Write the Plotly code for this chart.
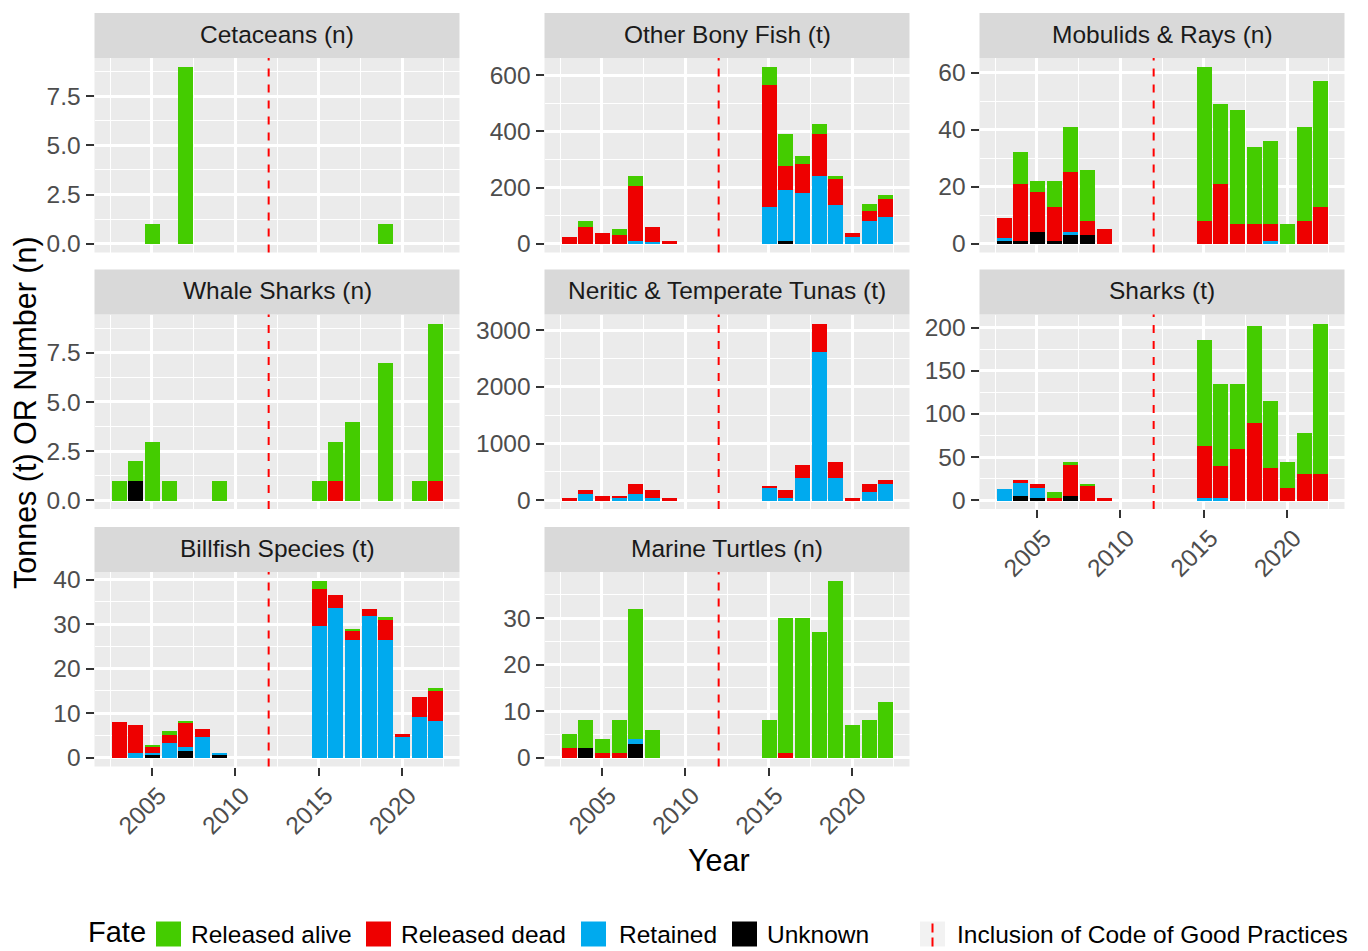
import plotly.graph_objects as go

W, H = 1368, 951
FONT = "Liberation Sans, Arial, sans-serif"

YEARS = list(range(2003, 2023))
CODE_YEAR = 2012
FATES = ["Released alive", "Released dead", "Retained", "Unknown"]
FATE_COLOURS = ["#44CC00", "#EE0000", "#00AAEE", "#000000"]

PANELS = ["Cetaceans (n)", "Other Bony Fish (t)", "Mobulids & Rays (n)",
          "Whale Sharks (n)", "Neritic & Temperate Tunas (t)", "Sharks (t)",
          "Billfish Species (t)", "Marine Turtles (n)"]

# yearly values 2003 ... 2022
#                   03 04 05 06 07 08 09 10 11 12 13 14 15 16 17 18 19 20 21 22
cetaceans_alive    = [0, 0, 1, 0, 9, 0, 0, 0, 0, 0, 0, 0, 0, 0, 0, 0, 1, 0, 0, 0]
cetaceans_dead     = [0, 0, 0, 0, 0, 0, 0, 0, 0, 0, 0, 0, 0, 0, 0, 0, 0, 0, 0, 0]
cetaceans_retained = [0, 0, 0, 0, 0, 0, 0, 0, 0, 0, 0, 0, 0, 0, 0, 0, 0, 0, 0, 0]
cetaceans_unknown  = [0, 0, 0, 0, 0, 0, 0, 0, 0, 0, 0, 0, 0, 0, 0, 0, 0, 0, 0, 0]

bonyfish_alive    = [0, 21, 0, 21, 36, 0, 0, 0, 0, 0, 0, 0, 65, 116, 28, 38, 8, 0, 23, 14]
bonyfish_dead     = [24, 59, 38, 30, 196, 53, 10, 0, 0, 0, 0, 0, 434, 86, 101, 150, 93, 14, 36, 64]
bonyfish_retained = [0, 0, 0, 0, 8, 6, 0, 0, 0, 0, 0, 0, 131, 182, 182, 240, 139, 24, 81, 95]
bonyfish_unknown  = [0, 0, 0, 0, 0, 0, 0, 0, 0, 0, 0, 0, 0, 8, 0, 0, 0, 0, 0, 0]

mobulids_alive    = [0, 11, 4, 9, 16, 18, 0, 0, 0, 0, 0, 0, 54, 28, 40, 27, 29, 7, 33, 44]
mobulids_dead     = [7, 20, 14, 12, 21, 5, 5, 0, 0, 0, 0, 0, 8, 21, 7, 7, 6, 0, 8, 13]
mobulids_retained = [1, 0, 0, 0, 1, 0, 0, 0, 0, 0, 0, 0, 0, 0, 0, 0, 1, 0, 0, 0]
mobulids_unknown  = [1, 1, 4, 1, 3, 3, 0, 0, 0, 0, 0, 0, 0, 0, 0, 0, 0, 0, 0, 0]

whale_alive    = [1, 1, 3, 1, 0, 0, 1, 0, 0, 0, 0, 0, 1, 2, 4, 0, 7, 0, 1, 8]
whale_dead     = [0, 0, 0, 0, 0, 0, 0, 0, 0, 0, 0, 0, 0, 1, 0, 0, 0, 0, 0, 1]
whale_retained = [0, 0, 0, 0, 0, 0, 0, 0, 0, 0, 0, 0, 0, 0, 0, 0, 0, 0, 0, 0]
whale_unknown  = [0, 1, 0, 0, 0, 0, 0, 0, 0, 0, 0, 0, 0, 0, 0, 0, 0, 0, 0, 0]

tunas_alive    = [0, 0, 0, 0, 0, 0, 0, 0, 0, 0, 0, 0, 0, 0, 0, 0, 0, 0, 0, 0]
tunas_dead     = [50, 71, 88, 47, 183, 147, 45, 0, 0, 0, 0, 0, 47, 147, 218, 500, 283, 50, 147, 71]
tunas_retained = [0, 118, 0, 41, 118, 41, 0, 0, 0, 0, 0, 0, 218, 41, 406, 2621, 406, 0, 153, 300]
tunas_unknown  = [0, 0, 0, 0, 0, 0, 0, 0, 0, 0, 0, 0, 0, 0, 0, 0, 0, 0, 0, 0]

sharks_alive    = [0, 0, 0, 7, 4.3, 2.3, 0, 0, 0, 0, 0, 0, 123, 94, 75, 113, 78, 30, 47, 174]
sharks_dead     = [0, 2.3, 4.7, 3, 35.7, 17.5, 3, 0, 0, 0, 0, 0, 61, 38, 60, 90, 38, 15, 31, 31]
sharks_retained = [14, 16, 12, 0, 0, 0, 0, 0, 0, 0, 0, 0, 2.7, 2.7, 0, 0, 0, 0, 0, 0]
sharks_unknown  = [0, 5.4, 3, 0, 5.4, 0, 0, 0, 0, 0, 0, 0, 0, 0, 0, 0, 0, 0, 0, 0]

billfish_alive    = [0, 0, 0.45, 1.0, 0.45, 0, 0, 0, 0, 0, 0, 0, 1.8, 0, 0.5, 0, 0.6, 0, 0, 0.5]
billfish_dead     = [7.95, 6.4, 1.4, 1.9, 5.6, 1.8, 0, 0, 0, 0, 0, 0, 8.25, 2.85, 1.9, 1.5, 4.5, 0.6, 4.5, 6.75]
billfish_retained = [0, 1.0, 0.4, 3.2, 0.8, 4.65, 0.3, 0, 0, 0, 0, 0, 29.7, 33.75, 26.5, 31.95, 26.5, 4.65, 9.2, 8.3]
billfish_unknown  = [0, 0, 0.6, 0, 1.5, 0, 0.6, 0, 0, 0, 0, 0, 0, 0, 0, 0, 0, 0, 0, 0]

turtles_alive    = [3, 6, 3, 7, 28, 6, 0, 0, 0, 0, 0, 0, 8, 29, 30, 27, 38, 7, 8, 12]
turtles_dead     = [2, 0, 1, 1, 0, 0, 0, 0, 0, 0, 0, 0, 0, 1, 0, 0, 0, 0, 0, 0]
turtles_retained = [0, 0, 0, 0, 1, 0, 0, 0, 0, 0, 0, 0, 0, 0, 0, 0, 0, 0, 0, 0]
turtles_unknown  = [0, 2, 0, 0, 3, 0, 0, 0, 0, 0, 0, 0, 0, 0, 0, 0, 0, 0, 0, 0]

# per panel: (alive, dead, retained, unknown)
PANEL_DATA = [
    (cetaceans_alive, cetaceans_dead, cetaceans_retained, cetaceans_unknown),
    (bonyfish_alive, bonyfish_dead, bonyfish_retained, bonyfish_unknown),
    (mobulids_alive, mobulids_dead, mobulids_retained, mobulids_unknown),
    (whale_alive, whale_dead, whale_retained, whale_unknown),
    (tunas_alive, tunas_dead, tunas_retained, tunas_unknown),
    (sharks_alive, sharks_dead, sharks_retained, sharks_unknown),
    (billfish_alive, billfish_dead, billfish_retained, billfish_unknown),
    (turtles_alive, turtles_dead, turtles_retained, turtles_unknown),
]

Y_TICKS = [
    [0, 2.5, 5, 7.5],
    [0, 200, 400, 600],
    [0, 20, 40, 60],
    [0, 2.5, 5, 7.5],
    [0, 1000, 2000, 3000],
    [0, 50, 100, 150, 200],
    [0, 10, 20, 30, 40],
    [0, 10, 20, 30],
]
Y_TICK_TEXT = [
    ["0.0", "2.5", "5.0", "7.5"],
    ["0", "200", "400", "600"],
    ["0", "20", "40", "60"],
    ["0.0", "2.5", "5.0", "7.5"],
    ["0", "1000", "2000", "3000"],
    ["0", "50", "100", "150", "200"],
    ["0", "10", "20", "30", "40"],
    ["0", "10", "20", "30"],
]
X_TICKS = [2005, 2010, 2015, 2020]
X_MINOR = [2002.5, 2007.5, 2012.5, 2017.5, 2022.5]

# facet geometry in pixels
COL_LEFT = [94.5, 544.5, 979.5]
ROW_TOP = [58.0, 314.5, 572.0]
PANEL_W = 365.0
PANEL_H = 194.5
STRIP_H = 45.0
BAR_W = 0.9
X_RANGE = [YEARS[0] - BAR_W / 2 - 0.05 * (YEARS[-1] - YEARS[0] + BAR_W),
           YEARS[-1] + BAR_W / 2 + 0.05 * (YEARS[-1] - YEARS[0] + BAR_W)]
BOTTOM_PANELS = {5, 6, 7}

fig = go.Figure()
shapes = []
annotations = []
axes = {}

for i, title in enumerate(PANELS):
    r, c = divmod(i, 3)
    sfx = "" if i == 0 else str(i + 1)
    xa, ya = "x" + sfx, "y" + sfx
    left, top = COL_LEFT[c], ROW_TOP[r]
    xdom = [left / W, (left + PANEL_W) / W]
    ydom = [1 - (top + PANEL_H) / H, 1 - top / H]

    alive, dead, retained, unknown = PANEL_DATA[i]
    series = {"Released alive": alive, "Released dead": dead,
              "Retained": retained, "Unknown": unknown}
    # stack from the bottom: Unknown, Retained, Released dead, Released alive
    for fate in reversed(FATES):
        vals = series[fate]
        colour = FATE_COLOURS[FATES.index(fate)]
        fig.add_trace(go.Bar(
            x=YEARS, y=[v if v else None for v in vals], width=BAR_W,
            marker=dict(color=colour, line=dict(width=0)),
            name=fate, showlegend=False, xaxis=xa, yaxis=ya,
        ))

    totals = [a + b + cc + d for a, b, cc, d in zip(alive, dead, retained, unknown)]
    ymax = max(totals)
    yrange = [-0.05 * ymax, 1.05 * ymax]
    step = Y_TICKS[i][1] - Y_TICKS[i][0]
    yminor = [t + step / 2 for t in [Y_TICKS[i][0] - step] + Y_TICKS[i]]

    bottom = i in BOTTOM_PANELS
    axes["xaxis" + sfx] = dict(
        domain=xdom, anchor=ya, range=X_RANGE, tickmode="array", tickvals=X_TICKS,
        ticktext=[str(t) for t in X_TICKS] if bottom else None,
        showticklabels=bottom, ticks="outside" if bottom else "",
        ticklen=8, tickwidth=1.5, tickcolor="#333333", tickangle=-45,
        ticklabelshift=7, ticklabelstandoff=-4,
        tickfont=dict(family=FONT, size=24.5, color="#4D4D4D"),
        showgrid=True, gridcolor="white", gridwidth=2.8, zeroline=False,
        showline=False, automargin=False, fixedrange=True,
        minor=dict(tickmode="array", tickvals=X_MINOR, showgrid=True,
                   gridcolor="white", gridwidth=1.4),
    )
    axes["yaxis" + sfx] = dict(
        domain=ydom, anchor=xa, range=yrange, tickmode="array",
        tickvals=Y_TICKS[i], ticktext=Y_TICK_TEXT[i], ticks="outside",
        ticklen=8, tickwidth=1.5, tickcolor="#333333",
        tickfont=dict(family=FONT, size=24.5, color="#4D4D4D"),
        showgrid=True, gridcolor="white", gridwidth=2.8, zeroline=False,
        showline=False, automargin=False, fixedrange=True,
        minor=dict(tickmode="array", tickvals=yminor, showgrid=True,
                   gridcolor="white", gridwidth=1.4),
    )

    # dashed reference line for the Code of Good Practices
    shapes.append(dict(type="line", xref=xa, yref=ya + " domain",
                       x0=CODE_YEAR, x1=CODE_YEAR, y0=0, y1=1,
                       line=dict(color="#FF0000", width=2, dash="8px,8px")))

    # facet strip
    shapes.append(dict(type="rect", xref="paper", yref="paper",
                       x0=xdom[0], x1=xdom[1],
                       y0=1 - top / H, y1=1 - (top - STRIP_H) / H,
                       fillcolor="#D9D9D9", line=dict(width=0), layer="below"))
    annotations.append(dict(text=title, xref="paper", yref="paper",
                            x=(xdom[0] + xdom[1]) / 2,
                            y=1 - (top - STRIP_H / 2 - 1.5) / H,
                            xanchor="center", yanchor="middle", showarrow=False,
                            font=dict(family=FONT, size=24.5, color="#1A1A1A")))

# axis titles
annotations.append(dict(text="Tonnes (t) OR Number (n)", xref="paper", yref="paper",
                        x=26 / W, y=1 - 413 / H, textangle=-90, showarrow=False,
                        xanchor="center", yanchor="middle",
                        font=dict(family=FONT, size=30.5, color="#000000")))
annotations.append(dict(text="Year", xref="paper", yref="paper",
                        x=719 / W, y=1 - 860 / H, showarrow=False,
                        xanchor="center", yanchor="middle",
                        font=dict(family=FONT, size=30.5, color="#000000")))

# legend along the bottom
LEG_Y = 932
KEY = 25
annotations.append(dict(text="Fate", xref="paper", yref="paper", x=86 / W,
                        y=1 - LEG_Y / H, xanchor="left", yanchor="middle",
                        showarrow=False,
                        font=dict(family=FONT, size=29, color="#000000")))
KEY_LEFT = [156, 366, 581, 732]
TEXT_LEFT = [189, 399, 617, 765]
for fate, colour, kx, tx in zip(FATES, FATE_COLOURS, KEY_LEFT, TEXT_LEFT):
    shapes.append(dict(type="rect", xref="paper", yref="paper",
                       x0=kx / W, x1=(kx + KEY) / W,
                       y0=1 - (LEG_Y + 2 + KEY / 2) / H, y1=1 - (LEG_Y + 2 - KEY / 2) / H,
                       fillcolor=colour, line=dict(width=0)))
    annotations.append(dict(text=fate, xref="paper", yref="paper", x=tx / W,
                            y=1 - (LEG_Y + 2) / H, xanchor="left", yanchor="middle",
                            showarrow=False,
                            font=dict(family=FONT, size=24.5, color="#000000")))

LINE_KEY_LEFT = 920
shapes.append(dict(type="rect", xref="paper", yref="paper",
                   x0=LINE_KEY_LEFT / W, x1=(LINE_KEY_LEFT + KEY) / W,
                   y0=1 - (LEG_Y + 2 + KEY / 2) / H, y1=1 - (LEG_Y + 2 - KEY / 2) / H,
                   fillcolor="#F2F2F2", line=dict(width=0)))
shapes.append(dict(type="line", xref="paper", yref="paper",
                   x0=(LINE_KEY_LEFT + KEY / 2) / W, x1=(LINE_KEY_LEFT + KEY / 2) / W,
                   y0=1 - (LEG_Y + 2 + KEY / 2) / H, y1=1 - (LEG_Y + 2 - KEY / 2) / H,
                   line=dict(color="#FF0000", width=2, dash="9px,5px")))
annotations.append(dict(text="Inclusion of Code of Good Practices", xref="paper",
                        yref="paper", x=955 / W, y=1 - (LEG_Y + 2) / H, xanchor="left",
                        yanchor="middle", showarrow=False,
                        font=dict(family=FONT, size=24.5, color="#000000")))

fig.update_layout(
    width=W, height=H, margin=dict(l=0, r=0, t=0, b=0),
    paper_bgcolor="white", plot_bgcolor="#EBEBEB",
    barmode="stack", bargap=0, showlegend=False,
    font=dict(family=FONT, size=24.5, color="#000000"),
    shapes=shapes, annotations=annotations, **axes,
)

fig.write_html("out.html")
